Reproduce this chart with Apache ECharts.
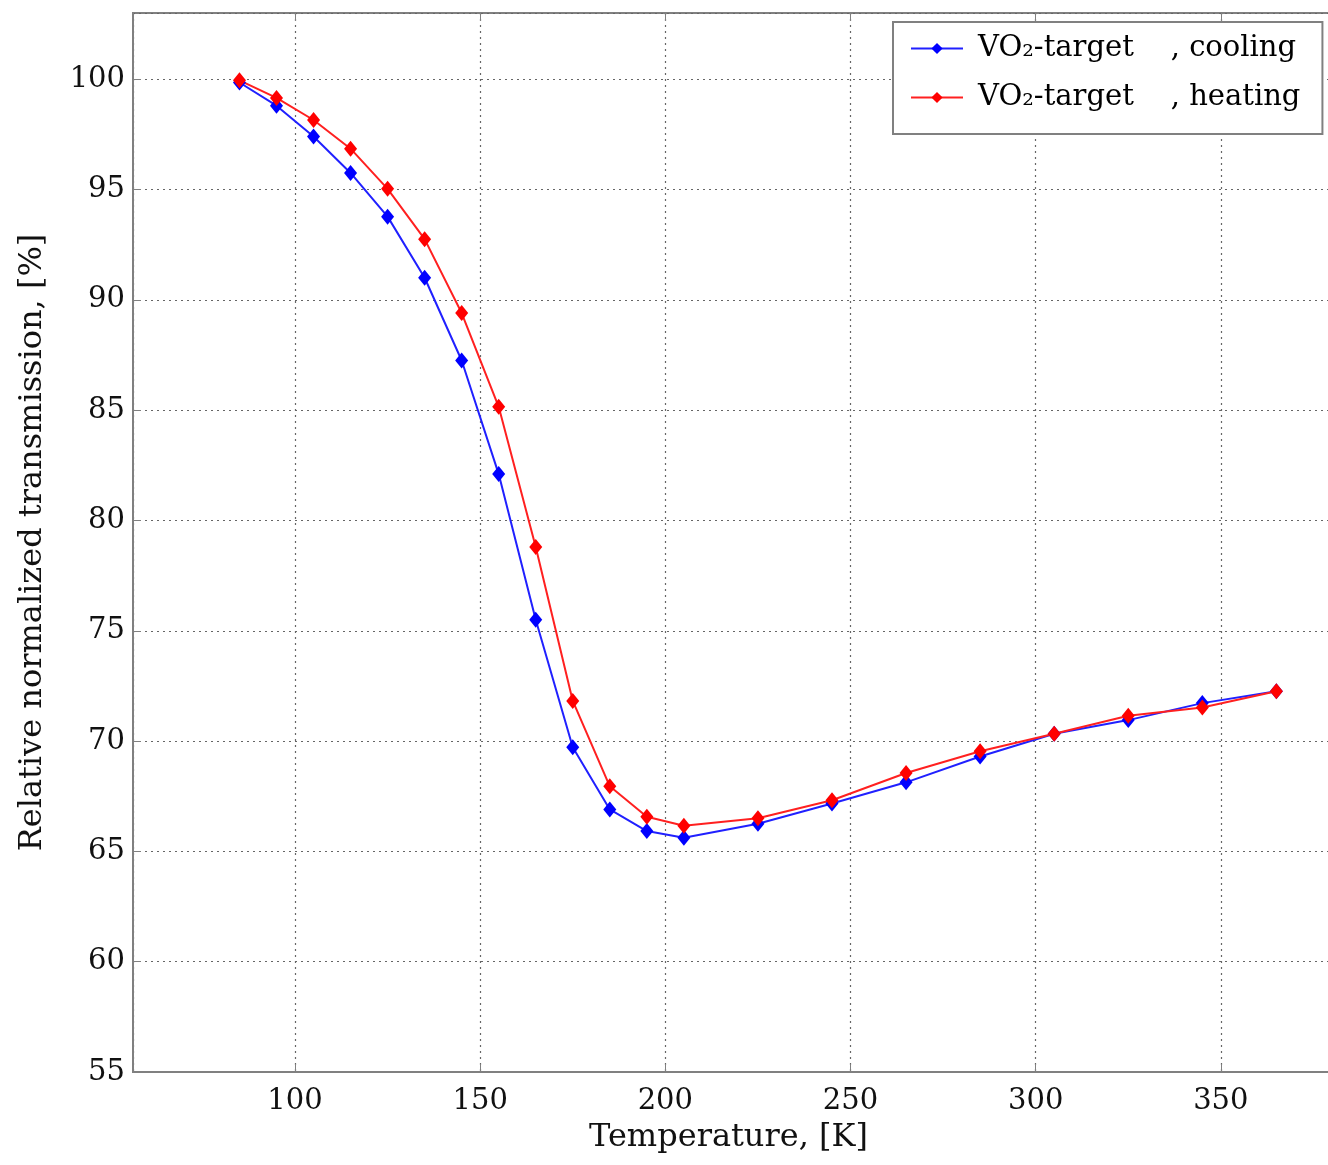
<!DOCTYPE html>
<html>
<head>
<meta charset="utf-8">
<script src="https://cdn.jsdelivr.net/npm/echarts@6/dist/echarts.min.js"></script>
<style>
  html, body { margin: 0; padding: 0; background: #fff; }
  #chart { width: 1328px; height: 1165px; }
</style>
</head>
<body>
<div id="chart"></div>
<script>
const temperature = [85, 95, 105, 115, 125, 135, 145, 155, 165, 175, 185, 195, 205, 225, 245, 265, 285, 305, 325, 345, 365];
const cooling = [99.85, 98.8, 97.4, 95.75, 93.77, 91.0, 87.25, 82.1, 75.5, 69.72, 66.9, 65.92, 65.62, 66.25, 67.17, 68.13, 69.3, 70.33, 70.95, 71.72, 72.26];
const heating = [99.95, 99.15, 98.15, 96.85, 95.03, 92.75, 89.4, 85.15, 78.8, 71.82, 67.95, 66.57, 66.16, 66.5, 67.32, 68.55, 69.54, 70.33, 71.15, 71.52, 72.26];

const seriesNames = ["VO\u2082-target    , cooling", "VO\u2082-target    , heating"];

var chartDom = document.getElementById("chart");
var myChart = echarts.init(chartDom);
var font = "DejaVu Serif";

function pairs(ys) {
  return temperature.map((t, i) => [t, ys[i]]);
}

var option = {
  backgroundColor: "#fff",
  animation: false,
  textStyle: { fontFamily: font, color: "#111" },
  grid: {
    left: 133,
    top: 13,
    width: 1273,
    bottom: 93,
    outerBoundsMode: "none",
    containLabel: false,
    show: true,
    borderColor: "#808080",
    borderWidth: 2,
    backgroundColor: "#fff",
  },
  legend: {
    orient: "vertical",
    left: 893,
    top: 22,
    padding: [12, 22, 22, 17],
    itemGap: 20,
    itemWidth: 52,
    itemHeight: 14,
    backgroundColor: "#fff",
    borderColor: "#808080",
    borderWidth: 2,
    textStyle: {
      fontFamily: font,
      fontSize: 29,
      color: "#000",
      padding: [0, 0, 0, 10],
    },
    data: seriesNames,
  },
  xAxis: [
    {
      type: "value",
      min: 56.25,
      max: 400,
      name: "Temperature, [K]",
      nameLocation: "middle",
      nameGap: 50,
      nameTextStyle: {
        fontFamily: font,
        fontSize: 32,
        color: "#111",
        padding: [0, 82, 0, 0],
      },
      axisLine: { show: true, lineStyle: { color: "#808080", width: 2 } },
      axisTick: { show: true, inside: true, length: 8, lineStyle: { color: "#808080" } },
      axisLabel: {
        showMinLabel: false,
        margin: 15,
        fontFamily: font,
        fontSize: 29,
        color: "#111",
      },
      splitLine: {
        show: true,
        lineStyle: { color: "#666", type: [2, 4], width: 1.2 },
      },
    },
    {
      type: "value",
      position: "top",
      min: 56.25,
      max: 400,
      axisLine: { show: false },
      axisTick: { show: true, inside: true, length: 8, lineStyle: { color: "#808080" } },
      axisLabel: { show: false },
      splitLine: { show: false },
    },
  ],
  yAxis: {
    type: "value",
    min: 55,
    max: 103,
    interval: 5,
    name: "Relative normalized transmission, [%]",
    nameLocation: "middle",
    nameGap: 84,
    nameTextStyle: { fontFamily: font, fontSize: 32, color: "#111" },
    axisLine: { show: true, lineStyle: { color: "#808080", width: 2 } },
    axisTick: { show: true, inside: true, length: 8, lineStyle: { color: "#808080" } },
    axisLabel: {
      showMaxLabel: false,
      margin: 8,
      fontFamily: font,
      fontSize: 29,
      color: "#111",
    },
    splitLine: {
      show: true,
      lineStyle: { color: "#666", type: [2, 4], width: 1.2 },
    },
  },
  series: [
    {
      name: seriesNames[0],
      type: "line",
      symbol: "diamond",
      symbolSize: [13, 16],
      showAllSymbol: true,
      itemStyle: { color: "#0000ff" },
      lineStyle: { color: "#2020ff", width: 2 },
      data: pairs(cooling),
    },
    {
      name: seriesNames[1],
      type: "line",
      symbol: "diamond",
      symbolSize: [13, 16],
      showAllSymbol: true,
      itemStyle: { color: "#ff0000" },
      lineStyle: { color: "#ff2020", width: 2 },
      data: pairs(heating),
    },
  ],
};

option && myChart.setOption(option);
</script>
</body>
</html>
